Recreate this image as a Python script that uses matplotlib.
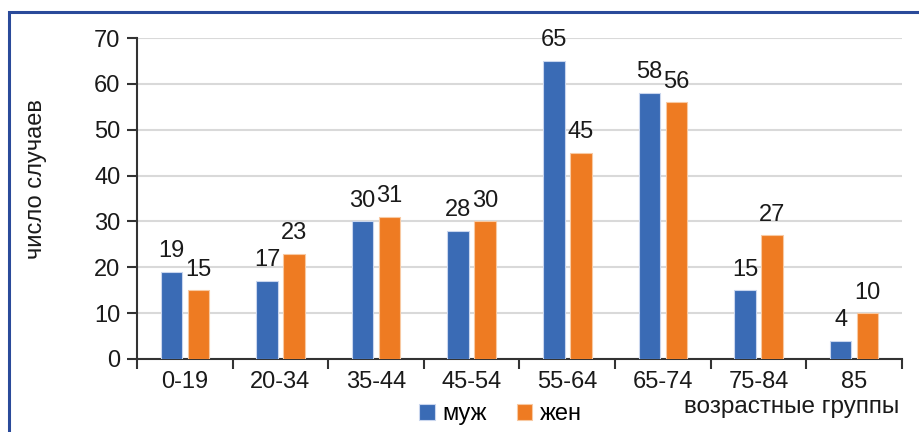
import matplotlib
matplotlib.use("Agg")
import matplotlib.pyplot as plt
import numpy as np

plt.rcParams['font.family'] = ['Liberation Sans', 'DejaVu Sans']

groups = ["0-19", "20-34", "35-44", "45-54", "55-64", "65-74", "75-84", "85"]
male = [19, 17, 30, 28, 65, 58, 15, 4]
female = [15, 23, 31, 30, 45, 56, 27, 10]
series_names = ["муж", "жен"]
y_ticks = [0, 10, 20, 30, 40, 50, 60, 70]

blue = "#3a6bb5"
orange = "#ee7b22"
text_color = "#1a1a1a"

fig = plt.figure(figsize=(9.2, 4.32), dpi=100)
ax = fig.add_axes([0.1489, 0.169, 0.8315, 0.743])

x = np.arange(len(groups))
w = 0.225
off = 0.141
b1 = ax.bar(x - off, male, w, color=blue, edgecolor="#c9d6ee", linewidth=0.8,
            label=series_names[0], zorder=3)
b2 = ax.bar(x + off, female, w, color=orange, edgecolor="#f8c9a2", linewidth=0.8,
            label=series_names[1], zorder=3)

for bars, vals in ((b1, male), (b2, female)):
    for r, v in zip(bars, vals):
        ax.annotate(str(v), (r.get_x() + r.get_width() / 2, v),
                    xytext=(0, 10.5), textcoords="offset points",
                    ha="center", va="baseline", fontsize=17, color=text_color)

ax.set_xlim(-0.5, len(groups) - 0.5)
ax.set_ylim(0, 70)
ax.set_yticks(y_ticks)
ax.set_yticklabels([str(t) for t in y_ticks], fontsize=17, color=text_color)
ax.yaxis.grid(True, color="#d9d9d9", linewidth=1.5, zorder=0)
ax.set_axisbelow(True)

ax.set_xticks(np.arange(len(groups) + 1) - 0.5)
ax.set_xticklabels([])
ax.set_xticks(x, minor=True)
ax.set_xticklabels(groups, minor=True, fontsize=17, color=text_color)
ax.tick_params(axis="x", which="minor", length=0, pad=9)
ax.tick_params(axis="x", which="major", length=7, width=1.5, color="#333333")
ax.tick_params(axis="y", length=7, width=1.5, color="#333333", pad=5)

for s in ("top", "right"):
    ax.spines[s].set_visible(False)
for s in ("left", "bottom"):
    ax.spines[s].set_color("#333333")
    ax.spines[s].set_linewidth(1.5)

ax.set_ylabel("число случаев", fontsize=17, color=text_color)
ax.yaxis.set_label_coords(-0.117, 0.56)

fig.text(0.977, 0.058, "возрастные группы", ha="right", va="center",
         fontsize=17.5, color=text_color)

fig.legend(handles=[b1, b2], loc="center", bbox_to_anchor=(0.544, 0.041),
           ncol=2, frameon=False, fontsize=17, handlelength=0.65,
           handleheight=0.65, handletextpad=0.3, columnspacing=1.3)

# frame around the chart (only top and left edges fall inside the canvas)
frame = plt.Rectangle((9 / 920, -0.05), 1.1, 1 - 12 / 432 + 0.05,
                      transform=fig.transFigure, fill=False,
                      edgecolor="#2a4a9a", linewidth=2.2)
fig.add_artist(frame)

fig.savefig("out.png", dpi=100)
